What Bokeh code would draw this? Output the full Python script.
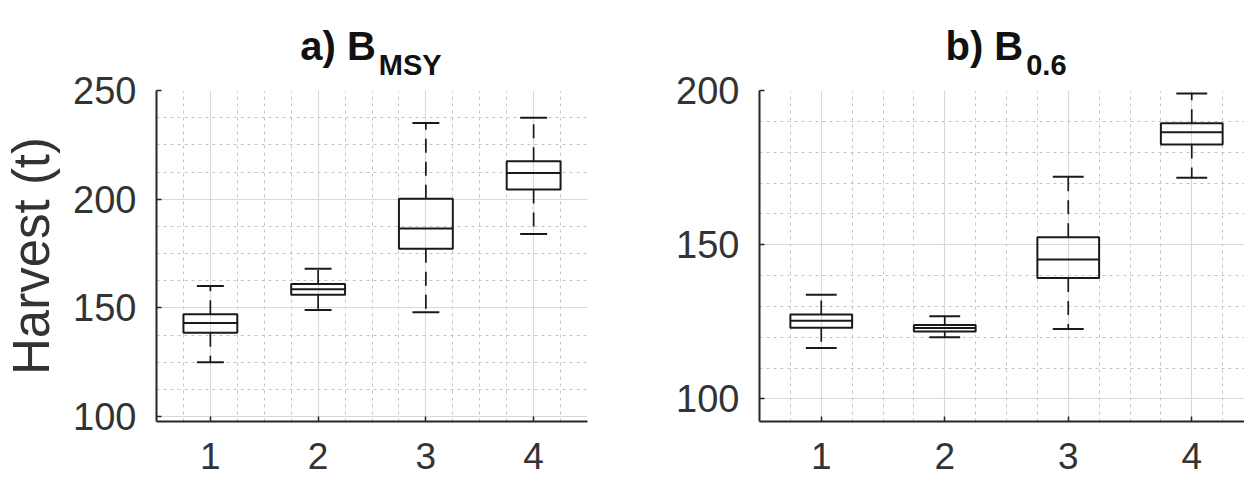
from bokeh.plotting import figure
from bokeh.layouts import row, column
from bokeh.models import Range1d, SingleIntervalTicker, Div
from bokeh.embed import file_html
from bokeh.resources import INLINE

# ---------------- data ----------------
scenarios = [1, 2, 3, 4]
tick_labels = ["1", "2", "3", "4"]

# panel a) B_MSY
a_low = [125, 149, 148, 184]
a_q1 = [138.5, 156, 177.2, 204.5]
a_med = [143, 158.6, 186.5, 212]
a_q3 = [147, 161, 200.2, 217.5]
a_high = [160, 168, 235, 237.5]

# panel b) B_0.6
b_low = [116.5, 120, 122.7, 171.7]
b_q1 = [123.1, 121.9, 139.2, 182.5]
b_med = [125.4, 123, 145.2, 186.5]
b_q3 = [127.4, 124, 152.4, 189.4]
b_high = [133.8, 126.8, 172, 199]

FONT = "Liberation Sans"
TXT = "#262626"
LINE = "#1a1a1a"
BOX_W = 0.5
CAP_W = 0.25
TITLE_H = 67
TOP_B = 23
FIG_H = 484 - TITLE_H


def title_div(width, left, frame_w, main, sub):
    html = (
        f'<div style="margin-left:{left}px;width:{frame_w}px;margin-top:26px;'
        f'text-align:center;white-space:nowrap;line-height:40px;font-size:40px;'
        f'font-family:\'{FONT}\';font-weight:bold;color:#111111;">'
        f'<span style="font-size:40px">{main}</span>'
        f'<span style="font-size:29px;position:relative;top:15px;margin-left:3px">{sub}</span>'
        f'</div>'
    )
    return Div(text=html, width=width, height=TITLE_H, margin=0,
               styles={"overflow": "visible", "position": "relative", "z-index": "2"})


def panel(width, xend, yrange, nminor, low, q1, med, q3, high, mb_left, mb_right,
          ylabel=None):
    p = figure(width=width, height=FIG_H, x_range=Range1d(0.5, xend),
               y_range=Range1d(*yrange), output_backend="svg", toolbar_location=None,
               min_border_left=mb_left, min_border_right=mb_right,
               min_border_top=TOP_B, min_border_bottom=63, margin=0)
    p.outline_line_color = None
    p.background_fill_color = "white"
    p.border_fill_color = None

    xt = SingleIntervalTicker(interval=1, num_minor_ticks=4)
    yt = SingleIntervalTicker(interval=50, num_minor_ticks=nminor)
    p.xaxis.ticker = xt
    p.yaxis.ticker = yt
    p.xgrid.ticker = xt
    p.ygrid.ticker = yt
    p.xaxis.major_label_overrides = {s: t for s, t in zip(scenarios, tick_labels)}

    for g in (p.xgrid, p.ygrid):
        g.grid_line_color = "#d9d9d9"
        g.grid_line_width = 1.2
        g.minor_grid_line_color = "#c4c4c4"
        g.minor_grid_line_dash = "3 4"
        g.minor_grid_line_width = 1

    for ax in (p.xaxis, p.yaxis):
        ax.axis_line_color = TXT
        ax.axis_line_width = 2
        ax.major_tick_in = 5
        ax.major_tick_out = 0
        ax.minor_tick_in = 0
        ax.minor_tick_out = 0
        ax.major_tick_line_color = TXT
        ax.major_tick_line_width = 1.5
        ax.major_label_text_font = FONT
        ax.major_label_text_font_size = "38px"
        ax.major_label_text_color = "#333333"
    p.xaxis.major_label_text_font_size = "37px"
    p.yaxis.major_label_standoff = 20
    p.xaxis.major_label_standoff = 21

    if ylabel:
        p.yaxis.axis_label = ylabel
        p.yaxis.axis_label_text_font = FONT
        p.yaxis.axis_label_text_font_size = "51px"
        p.yaxis.axis_label_text_font_style = "normal"
        p.yaxis.axis_label_text_color = "#333333"
        p.yaxis.axis_label_standoff = 10

    # boxes
    p.vbar(x=scenarios, width=BOX_W, bottom=q1, top=q3, fill_color=None,
           line_color=LINE, line_width=2)
    # medians
    p.segment(x0=[s - BOX_W / 2 for s in scenarios], x1=[s + BOX_W / 2 for s in scenarios],
              y0=med, y1=med, line_color=LINE, line_width=2)
    # whiskers
    p.segment(x0=scenarios, x1=scenarios, y0=q3, y1=high, line_color=LINE,
              line_width=1.7, line_dash="14 9")
    p.segment(x0=scenarios, x1=scenarios, y0=q1, y1=low, line_color=LINE,
              line_width=1.7, line_dash="14 9")
    # caps
    for v in (low, high):
        p.segment(x0=[s - CAP_W / 2 for s in scenarios], x1=[s + CAP_W / 2 for s in scenarios],
                  y0=v, y1=v, line_color=LINE, line_width=2)
    return p


WA, WB = 605, 639
LA, RA = 155, 18
LB = 154

pa = panel(WA, 4.5, (97.7, 250), 4, a_low, a_q1, a_med, a_q3, a_high, LA, RA,
           ylabel="Harvest (t)")
frame_b = WB - LB
pb = panel(WB, 0.5 + frame_b / 123.5, (92.7, 200), 5, b_low, b_q1, b_med, b_q3, b_high, LB, 0)

da = title_div(WA, LA, WA - LA - RA, "a) B", "MSY")
db = title_div(WB, LB, 494, "b) B", "0.6")

layout = row(column(da, pa, spacing=0), column(db, pb, spacing=0), spacing=0)
open("out.html", "w").write(file_html(layout, INLINE))
